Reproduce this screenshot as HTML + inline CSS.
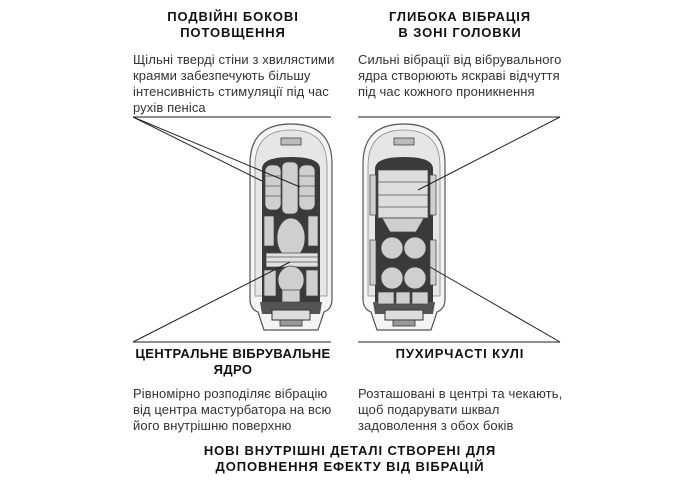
<!DOCTYPE html>
<html><head><meta charset="utf-8"><style>
body{margin:0;width:700px;height:500px;background:#fff;position:relative;overflow:hidden;font-family:"Liberation Sans","DejaVu Sans",sans-serif;color:#222}
.t{position:absolute;font-weight:bold;font-size:13px;line-height:16px;text-align:center;letter-spacing:0.9px;color:#111}
.b{position:absolute;font-size:13px;line-height:16px;color:#333;white-space:nowrap;letter-spacing:0.1px}
svg{position:absolute;left:0;top:0}
</style></head><body>
<svg width="700" height="500">
<defs>
<g id="cap">
<path d="M0,40 Q0,0 41,0 Q82,0 82,40 L82,175 Q82,185 74,188 L68,206 L14,206 L8,188 Q0,185 0,175 Z" fill="#f4f4f4" stroke="#555" stroke-width="1.2"/>
<path d="M5,42 Q5,6 41,6 Q77,6 77,42 L77,172 L5,172 Z" fill="#e6e6e6" stroke="#888" stroke-width="0.8"/>
<rect x="31" y="14" width="20" height="7" fill="#bbb" stroke="#444" stroke-width="0.8"/>
<path d="M12,45 Q12,33 41,33 Q70,33 70,45 L70,178 L12,178 Z" fill="#3a3a3a"/>
<path d="M10,178 L72,178 L70,190 L12,190 Z" fill="#555"/>
<rect x="22" y="186" width="38" height="10" fill="#ddd" stroke="#333" stroke-width="1"/>
<rect x="30" y="196" width="22" height="6" fill="#999" stroke="#333" stroke-width="0.8"/>
</g>
</defs>
<use href="#cap" x="250" y="124"/>
<use href="#cap" x="363" y="124"/>
<g fill="#cfcfcf" stroke="#444" stroke-width="0.7">
<rect x="265" y="165" width="16" height="45" rx="6"/>
<rect x="282" y="162" width="16" height="52" rx="5"/>
<rect x="299" y="165" width="16" height="45" rx="6"/>
<ellipse cx="291" cy="238" rx="14" ry="20"/>
<rect x="266" y="253" width="52" height="14" fill="#e0e0e0"/>
<ellipse cx="291" cy="280" rx="13" ry="14"/>
<rect x="264" y="270" width="12" height="26"/>
<rect x="306" y="270" width="12" height="26"/>
<rect x="282" y="290" width="18" height="12"/>
<rect x="264" y="216" width="10" height="30"/><rect x="308" y="216" width="10" height="30"/>
</g>
<g stroke="#555" stroke-width="0.7">
<line x1="265" y1="176" x2="281" y2="176"/><line x1="265" y1="186" x2="281" y2="186"/><line x1="265" y1="196" x2="281" y2="196"/>
<line x1="299" y1="176" x2="315" y2="176"/><line x1="299" y1="186" x2="315" y2="186"/><line x1="299" y1="196" x2="315" y2="196"/>
<line x1="266" y1="257" x2="318" y2="257"/><line x1="266" y1="262" x2="318" y2="262"/>
</g>
<g fill="#cfcfcf" stroke="#444" stroke-width="0.7">
<rect x="378" y="170" width="50" height="48" fill="#ddd"/>
<path d="M382,218 L424,218 L416,232 L390,232 Z"/>
<circle cx="392" cy="248" r="11"/><circle cx="415" cy="248" r="11"/>
<circle cx="392" cy="278" r="11"/><circle cx="415" cy="278" r="11"/>
<rect x="378" y="292" width="16" height="12"/><rect x="396" y="292" width="14" height="12"/><rect x="412" y="292" width="16" height="12"/>
<rect x="370" y="175" width="6" height="40"/><rect x="430" y="175" width="6" height="40"/>
<rect x="370" y="240" width="6" height="45"/><rect x="430" y="240" width="6" height="45"/>
</g>
<g stroke="#555" stroke-width="0.7">
<line x1="378" y1="182" x2="428" y2="182"/><line x1="378" y1="195" x2="428" y2="195"/><line x1="378" y1="207" x2="428" y2="207"/>
</g>
<g stroke="#222" stroke-width="1" fill="none">
<line x1="133" y1="117" x2="331" y2="117"/>
<line x1="133" y1="117" x2="262" y2="181"/>
<line x1="133" y1="117" x2="300" y2="187"/>
<line x1="133" y1="342" x2="331" y2="342"/>
<line x1="133" y1="342" x2="290" y2="262"/>
<line x1="358" y1="117" x2="560" y2="117"/>
<line x1="560" y1="117" x2="418" y2="190"/>
<line x1="358" y1="342" x2="560" y2="342"/>
<line x1="560" y1="342" x2="430" y2="267"/>
</g>
</svg>
<div class="t" style="left:123px;top:9px;width:220px">ПОДВІЙНІ БОКОВІ<br>ПОТОВЩЕННЯ</div>
<div class="t" style="left:350px;top:9px;width:220px">ГЛИБОКА ВІБРАЦІЯ<br>В ЗОНІ ГОЛОВКИ</div>
<div class="b" style="left:133px;top:52px">Щільні тверді стіни з хвилястими<br>краями забезпечують більшу<br>інтенсивність стимуляції під час<br>рухів пеніса</div>
<div class="b" style="left:358px;top:52px">Сильні вібрації від вібрувального<br>ядра створюють яскраві відчуття<br>під час кожного проникнення</div>
<div class="t" style="left:118px;top:346px;width:230px;letter-spacing:0.4px">ЦЕНТРАЛЬНЕ ВІБРУВАЛЬНЕ<br>ЯДРО</div>
<div class="t" style="left:350px;top:346px;width:220px">ПУХИРЧАСТІ КУЛІ</div>
<div class="b" style="left:133px;top:386px">Рівномірно розподіляє вібрацію<br>від центра мастурбатора на всю<br>його внутрішню поверхню</div>
<div class="b" style="left:358px;top:386px">Розташовані в центрі та чекають,<br>щоб подарувати шквал<br>задоволення з обох боків</div>
<div class="t" style="left:130px;top:443px;width:440px">НОВІ ВНУТРІШНІ ДЕТАЛІ СТВОРЕНІ ДЛЯ<br>ДОПОВНЕННЯ ЕФЕКТУ ВІД ВІБРАЦІЙ</div>
</body></html>
